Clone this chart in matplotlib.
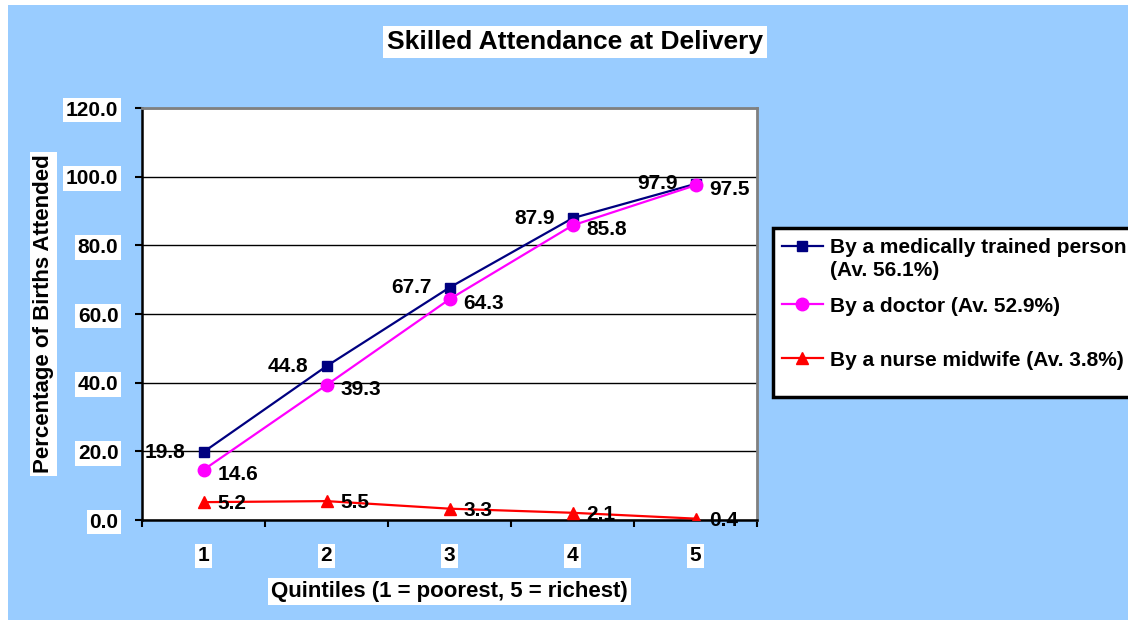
import matplotlib

matplotlib.use("Agg")
import matplotlib.pyplot as plt
from matplotlib.patches import Rectangle

# Chart data
quintiles = [1, 2, 3, 4, 5]
medically_trained = [19.8, 44.8, 67.7, 87.9, 97.9]
doctor = [14.6, 39.3, 64.3, 85.8, 97.5]
nurse_midwife = [5.2, 5.5, 3.3, 2.1, 0.4]

series_labels = [
    "By a medically trained person\n(Av. 56.1%)",
    "By a doctor (Av. 52.9%)",
    "By a nurse midwife (Av. 3.8%)",
]
y_ticks = [0, 20, 40, 60, 80, 100, 120]

BG = "#99CCFF"
FONT = "Liberation Sans"

plt.rcParams["font.family"] = [FONT, "DejaVu Sans"]
plt.rcParams["font.weight"] = "bold"

W, H = 1128, 620
fig = plt.figure(figsize=(W / 100, H / 100), dpi=100, facecolor="white")
fig.add_artist(Rectangle((8 / W, 0), 1, 1 - 5 / H, transform=fig.transFigure,
                         facecolor=BG, edgecolor="none", zorder=-2))

ax = fig.add_axes([142 / W, 1 - 520 / H, 615 / W, 412 / H])
ax.set_facecolor("white")

white_box = dict(facecolor="white", edgecolor="none", pad=2)

l1, = ax.plot(quintiles, medically_trained, color="#000080", lw=1.6,
              marker="s", markersize=7, zorder=4)
l2, = ax.plot(quintiles, doctor, color="#FF00FF", lw=1.6,
              marker="o", markersize=9, zorder=4)
l3, = ax.plot(quintiles, nurse_midwife, color="#FF0000", lw=1.6,
              marker="^", markersize=9, zorder=4)

for x, v in zip(quintiles, medically_trained):
    ax.annotate(f"{v:.1f}", (x, v), xytext=(-13, 0), textcoords="offset points",
                ha="right", va="center", fontsize=15, fontweight="bold", zorder=5)
for x, v in zip(quintiles, doctor):
    ax.annotate(f"{v:.1f}", (x, v), xytext=(10, -3), textcoords="offset points",
                ha="left", va="center", fontsize=15, fontweight="bold", zorder=5)
for x, v in zip(quintiles, nurse_midwife):
    ax.annotate(f"{v:.1f}", (x, v), xytext=(10, -1), textcoords="offset points",
                ha="left", va="center", fontsize=15, fontweight="bold", zorder=5)

ax.set_xlim(0.5, 5.5)
ax.set_ylim(0, 120)
ax.set_yticks(y_ticks)
ax.set_yticklabels([f"{t:.1f}" for t in y_ticks])
ax.yaxis.grid(True, color="black", lw=1)
ax.set_axisbelow(True)

# category boundaries as major ticks, labels on the centres
ax.set_xticks([q - 0.5 for q in quintiles] + [quintiles[-1] + 0.5])
ax.set_xticklabels([])
ax.set_xticks(quintiles, minor=True)
ax.set_xticklabels([str(q) for q in quintiles], minor=True)
ax.tick_params(axis="x", which="major", direction="out", length=5, width=1.5)
ax.tick_params(axis="x", which="minor", length=0, pad=19, labelsize=15)
ax.tick_params(axis="y", direction="out", length=5, width=1.5, pad=12, labelsize=15)
for lab in ax.get_xticklabels(minor=True) + ax.get_yticklabels():
    lab.set_fontweight("bold")
    lab.set_bbox(white_box)

for side in ("left", "bottom"):
    ax.spines[side].set_color("black")
    ax.spines[side].set_linewidth(1.8)
for side in ("top", "right"):
    ax.spines[side].set_color("#808080")
    ax.spines[side].set_linewidth(2)

ax.set_xlabel("Quintiles (1 = poorest, 5 = richest)", fontsize=16,
              fontweight="bold", bbox=white_box)
ax.set_ylabel("Percentage of Births Attended", fontsize=16,
              fontweight="bold", bbox=white_box)
ax.yaxis.set_label_coords(-(142 - 54) / 615, 0.5)
ax.xaxis.set_label_coords(0.5, -(581 - 520) / 412)

fig.text(575 / W, 1 - 42 / H, "Skilled Attendance at Delivery", ha="center",
         va="center", fontsize=19, fontweight="bold",
         bbox=dict(facecolor="white", edgecolor="none", pad=3))

# legend box (Excel style, runs off the right edge)
fig.add_artist(Rectangle((773 / W, 1 - 397 / H), 400 / W, 169 / H,
                         transform=fig.transFigure, facecolor="white",
                         edgecolor="black", lw=2.5, zorder=2))
# one legend per entry so the uneven Excel spacing can be kept
entry_rows = [259, 306, 360]
for handle, label, row in zip([l1, l2, l3], series_labels, entry_rows):
    leg = fig.legend([handle], [label], loc="center left",
                     bbox_to_anchor=(782 / W, 1 - row / H), frameon=False,
                     fontsize=15, handlelength=1.95, handletextpad=0.33,
                     borderpad=0, borderaxespad=0)
    leg.set_zorder(5)
    for t in leg.get_texts():
        t.set_fontweight("bold")
        t.set_linespacing(1.25)
    if "\n" in label:
        # put the handle on the first text line
        h = leg.legend_handles[0]
        h.set_ydata([y + 9.5 for y in h.get_ydata()])

fig.savefig("out.png", dpi=100, facecolor=fig.get_facecolor())
